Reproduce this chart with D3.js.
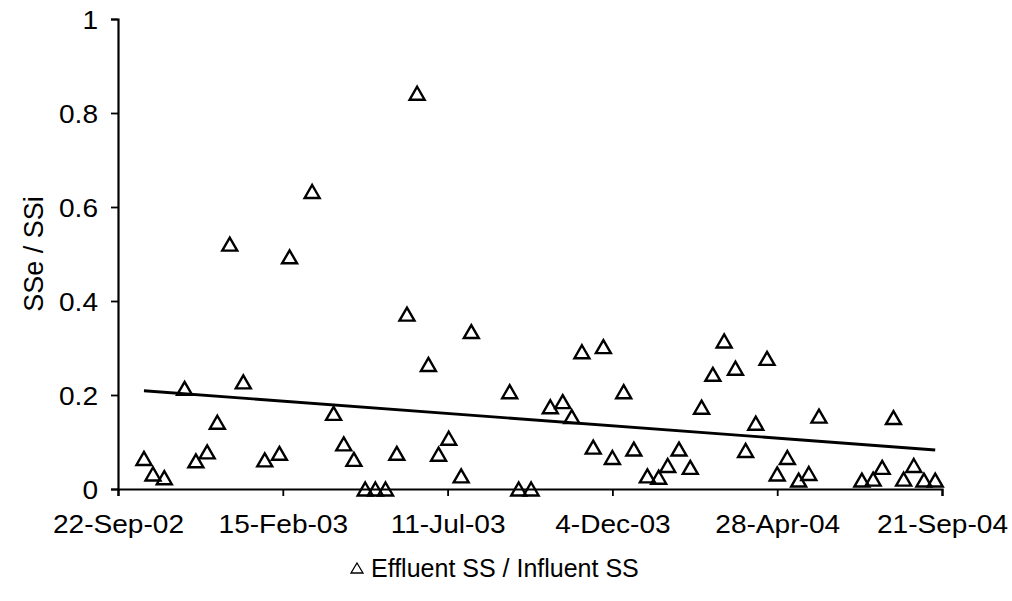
<!DOCTYPE html>
<html>
<head>
<meta charset="utf-8">
<script src="https://cdn.jsdelivr.net/npm/d3@7/dist/d3.min.js"></script>
<style>
  html, body { margin: 0; padding: 0; background: #fff; }
  svg { display: block; }
  text { font-family: "Liberation Sans", Arial, sans-serif; fill: #000; }
</style>
</head>
<body>
<svg id="chart" width="1012" height="601"></svg>
<script>
// Sampling dates and effluent/influent suspended solids ratios
const sampleDates = [
  "2002-10-15","2002-10-23","2002-11-02","2002-11-20","2002-11-30","2002-12-10","2002-12-19","2002-12-30",
  "2003-01-11","2003-01-30","2003-02-12","2003-02-21","2003-03-13","2003-04-01","2003-04-10","2003-04-19",
  "2003-04-29","2003-05-08","2003-05-17","2003-05-27","2003-06-05","2003-06-14","2003-06-24","2003-07-03",
  "2003-07-12","2003-07-23","2003-08-01","2003-09-04","2003-09-12","2003-09-23","2003-10-10","2003-10-21",
  "2003-10-29","2003-11-07","2003-11-17","2003-11-26","2003-12-04","2003-12-14","2003-12-23","2004-01-04",
  "2004-01-14","2004-01-22","2004-02-01","2004-02-11","2004-02-21","2004-03-02","2004-03-12","2004-03-22",
  "2004-03-31","2004-04-09","2004-04-19","2004-04-28","2004-05-07","2004-05-17","2004-05-26","2004-06-04",
  "2004-07-12","2004-07-22","2004-07-30","2004-08-09","2004-08-18","2004-08-27","2004-09-05","2004-09-15"
];
const ratioValues = [
  0.065, 0.032, 0.024, 0.214, 0.060, 0.079, 0.142, 0.521,
  0.228, 0.062, 0.076, 0.494, 0.633, 0.161, 0.096, 0.063,
  0.000, 0.000, 0.000, 0.076, 0.372, 0.842, 0.265, 0.074,
  0.108, 0.028, 0.335, 0.207, 0.000, 0.000, 0.175, 0.186,
  0.154, 0.292, 0.089, 0.303, 0.067, 0.207, 0.085, 0.028,
  0.025, 0.050, 0.085, 0.046, 0.174, 0.244, 0.315, 0.257,
  0.082, 0.140, 0.278, 0.032, 0.067, 0.019, 0.033, 0.155,
  0.019, 0.021, 0.046, 0.152, 0.021, 0.050, 0.019, 0.019
];
// Linear trend line end points
const trendDates = ["2002-10-15", "2004-09-15"];
const trendValues = [0.209, 0.083];

// Axis ticks
const xTickDates = ["2002-09-22","2003-02-15","2003-07-11","2003-12-04","2004-04-28","2004-09-21"];
const xTickLabels = ["22-Sep-02","15-Feb-03","11-Jul-03","4-Dec-03","28-Apr-04","21-Sep-04"];
const yTicks = [0, 0.2, 0.4, 0.6, 0.8, 1];
const yTickLabels = ["0", "0.2", "0.4", "0.6", "0.8", "1"];

const yTitle = "SSe / SSi";
const legendLabel = "Effluent SS / Influent SS";

const parse = d3.utcParse("%Y-%m-%d");
const points = sampleDates.map((d, i) => ({ date: parse(d), value: ratioValues[i] }));
const trend = trendDates.map((d, i) => ({ date: parse(d), value: trendValues[i] }));

const svg = d3.select("#chart");
const plot = { left: 118, right: 942, top: 19, bottom: 489 };
const FONT = "'Liberation Sans', Arial, sans-serif";
const WIDE = 1.08; // horizontal stretch of the tick lettering

const x = d3.scaleUtc()
  .domain([parse(xTickDates[0]), parse(xTickDates[xTickDates.length - 1])])
  .range([plot.left, plot.right]);
const y = d3.scaleLinear().domain([0, 1]).range([plot.bottom, plot.top]);

// Y axis
const yAxis = d3.axisLeft(y)
  .tickValues(yTicks)
  .tickFormat((d, i) => yTickLabels[i])
  .tickSize(7)
  .tickPadding(13);
const gy = svg.append("g").attr("transform", `translate(${plot.left},0)`).call(yAxis);
gy.select(".domain").attr("stroke", "#000").attr("stroke-width", 2.2);
gy.selectAll(".tick line").attr("stroke", "#000").attr("stroke-width", 1.8);
gy.selectAll(".tick text")
  .style("font-family", FONT)
  .style("font-size", "26px")
  .attr("fill", "#000")
  .attr("x", -20 / WIDE)
  .attr("dy", "0.36em")
  .attr("transform", `scale(${WIDE},1)`);

// X axis
const xAxis = d3.axisBottom(x)
  .tickValues(xTickDates.map(parse))
  .tickFormat((d, i) => xTickLabels[i])
  .tickSize(7)
  .tickPadding(19);
const gx = svg.append("g").attr("transform", `translate(0,${plot.bottom})`).call(xAxis);
gx.select(".domain").attr("stroke", "#000").attr("stroke-width", 2.2);
gx.selectAll(".tick line").attr("stroke", "#000").attr("stroke-width", 1.8);
gx.selectAll(".tick text")
  .style("font-family", FONT)
  .style("font-size", "26px")
  .attr("fill", "#000")
  .attr("transform", `scale(${WIDE},1)`);

// Y axis title
svg.append("text")
  .attr("transform", `translate(43,${(plot.top + plot.bottom) / 2}) rotate(-90)`)
  .attr("text-anchor", "middle")
  .style("font-size", "27px")
  .text(yTitle);

// Trend line
svg.append("path")
  .datum(trend)
  .attr("fill", "none")
  .attr("stroke", "#000")
  .attr("stroke-width", 2.8)
  .attr("d", d3.line().x(d => x(d.date)).y(d => y(d.value)));

// Open triangle markers
const tri = (w, h) => `M0,${-h / 2} L${w / 2},${h / 2} L${-w / 2},${h / 2} Z`;
svg.append("g")
  .selectAll("path")
  .data(points)
  .join("path")
  .attr("transform", d => `translate(${x(d.date)},${y(d.value)})`)
  .attr("d", tri(15, 13))
  .attr("fill", "none")
  .attr("stroke", "#000")
  .attr("stroke-width", 2.4)
  .attr("stroke-linejoin", "miter");

// Legend
const legend = svg.append("g").attr("transform", "translate(357,568)");
legend.append("path")
  .attr("d", tri(12, 10))
  .attr("fill", "none")
  .attr("stroke", "#000")
  .attr("stroke-width", 1.3);
legend.append("text")
  .attr("x", 14)
  .attr("y", 9)
  .style("font-size", "25px")
  .text(legendLabel);
</script>
</body>
</html>
